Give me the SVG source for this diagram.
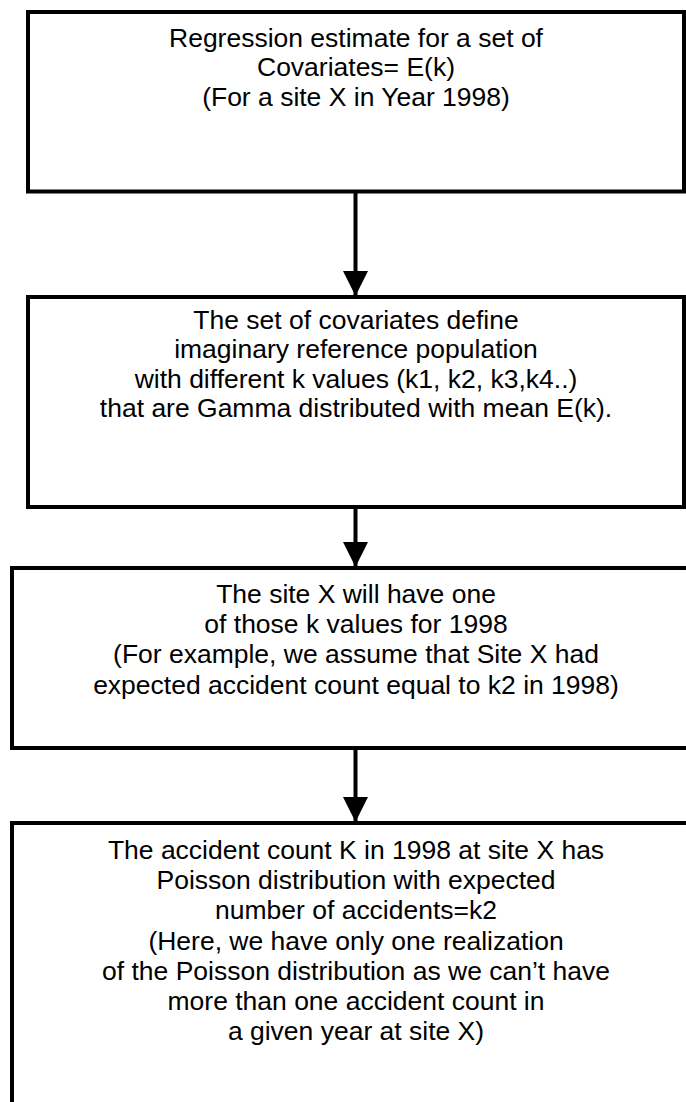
<svg xmlns="http://www.w3.org/2000/svg" width="686" height="1102" viewBox="0 0 686 1102">
<style>
.box{fill:#fff;stroke:#000;stroke-width:4}
.t{font-family:"Liberation Sans",Arial,sans-serif;font-size:25px;fill:#000;text-anchor:middle}
.conn{stroke:#000;stroke-width:4;fill:none}
</style>
<defs>
<marker id="ah" viewBox="0 0 25 25" refX="25" refY="12.5" markerWidth="25" markerHeight="25" markerUnits="userSpaceOnUse" orient="auto">
<path d="M0,0 L25,12.5 L0,25 Z" fill="#000"/>
</marker>
</defs>
<rect width="686" height="1102" fill="#fff"/>
<g id="node1">
<rect class="box" x="28" y="12" width="656" height="179.5"/>
<g transform="translate(356,0) scale(1.06,1)">
<text class="t" x="0" y="47">Regression estimate for a set of</text>
<text class="t" x="0" y="76.5">Covariates= E(k)</text>
<text class="t" x="0" y="106">(For a site X in Year 1998)</text>
</g>
</g>
<g id="node2">
<rect class="box" x="28" y="297" width="656" height="210"/>
<g transform="translate(356,0) scale(1.06,1)">
<text class="t" x="0" y="329">The set of covariates define</text>
<text class="t" x="0" y="358.5">imaginary reference population</text>
<text class="t" x="0" y="388">with different k values (k1, k2, k3,k4..)</text>
<text class="t" x="0" y="417.5">that are Gamma distributed with mean E(k).</text>
</g>
</g>
<g id="node3">
<rect class="box" x="12" y="568" width="700" height="180"/>
<g transform="translate(356,0) scale(1.06,1)">
<text class="t" x="0" y="603">The site X will have one</text>
<text class="t" x="0" y="633">of those k values for 1998</text>
<text class="t" x="0" y="663.5">(For example, we assume that Site X had</text>
<text class="t" x="0" y="694">expected accident count equal to k2 in 1998)</text>
</g>
</g>
<g id="node4">
<rect class="box" x="12" y="823" width="700" height="320"/>
<g transform="translate(356,0) scale(1.06,1)">
<text class="t" x="0" y="859">The accident count K in 1998 at site X has</text>
<text class="t" x="0" y="889">Poisson distribution with expected</text>
<text class="t" x="0" y="919.5">number of accidents=k2</text>
<text class="t" x="0" y="950">(Here, we have only one realization</text>
<text class="t" x="0" y="980">of the Poisson distribution as we can’t have</text>
<text class="t" x="0" y="1010">more than one accident count in</text>
<text class="t" x="0" y="1040">a given year at site X)</text>
</g>
</g>
<g id="connectors">
<line class="conn" x1="355.5" y1="193" x2="355.5" y2="296" marker-end="url(#ah)"/>
<line class="conn" x1="355.5" y1="509" x2="355.5" y2="567" marker-end="url(#ah)"/>
<line class="conn" x1="355.5" y1="750" x2="355.5" y2="822" marker-end="url(#ah)"/>
</g>
</svg>
